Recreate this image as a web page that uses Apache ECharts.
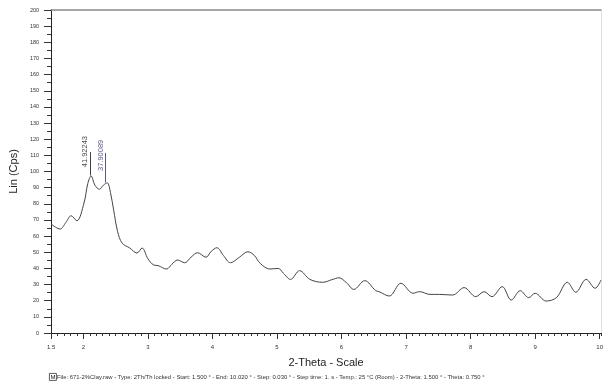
<!DOCTYPE html>
<html>
<head>
<meta charset="utf-8">
<script src="https://cdn.jsdelivr.net/npm/echarts@6/dist/echarts.min.js"></script>
<style>html,body{margin:0;padding:0;background:#fff;}#c{width:606px;height:385px;}</style>
</head>
<body>
<div id="c"></div>
<script>
// 2-Theta positions (degrees) and intensities (Lin Cps)
const twoTheta = [1.50,1.57,1.64,1.73,1.81,1.90,2.01,2.07,2.12,2.18,2.25,2.31,2.37,2.42,2.47,2.53,2.60,2.72,2.83,2.91,3.00,3.09,3.16,3.29,3.37,3.46,3.57,3.67,3.77,3.90,3.98,4.07,4.17,4.28,4.42,4.55,4.65,4.74,4.89,5.02,5.10,5.21,5.35,5.51,5.71,5.85,5.96,6.08,6.19,6.36,6.53,6.58,6.74,6.92,7.11,7.21,7.37,7.52,7.72,7.90,8.08,8.21,8.33,8.49,8.63,8.77,8.90,9.00,9.17,9.33,9.50,9.63,9.79,9.93,10.02];
const counts   = [67.5,65.5,64.4,68.5,72.6,69.5,80.5,92.7,97.2,91.5,89.0,91.5,93.0,87.0,76.0,63.0,55.7,52.6,49.5,52.6,46.0,42.1,41.7,39.6,42.5,45.2,43.5,47.0,49.7,46.9,50.5,52.8,48.0,43.5,47.0,50.3,48.0,43.1,39.6,40.0,37.0,33.2,38.6,33.2,31.4,33.0,34.2,31.0,27.0,32.4,26.2,25.6,22.9,30.8,24.6,25.6,23.9,23.9,23.5,28.1,22.5,25.6,22.5,28.7,20.4,26.2,21.9,24.6,19.8,21.9,31.4,25.2,33.2,27.7,32.8];
// Axis tick labels
const xTickLabels = [1.5,2,3,4,5,6,7,8,9,10];
// Peak annotations
const peakLabels = ['41.92243','37.90089'];
const peakLabelX = [2.03, 2.27];
const peakLabelY = [112.3, 110.0];
const arrowX = [2.10, 2.34];
const arrowTop = [112.0, 111.5];
const arrowBottom = [97.5, 93.2];
const peakColors = ['#111111','#2b2b66'];

const FONT = 'Liberation Sans, Arial, sans-serif';
const chart = echarts.init(document.getElementById('c'), null, {renderer:'canvas'});

const lineData = twoTheta.map((x,i)=>[x,counts[i]]);
const labelData = peakLabels.map((t,i)=>({value:[peakLabelX[i],peakLabelY[i],t], label:{color:peakColors[i]}}));
const arrowData = arrowX.map((x,i)=>[
  {coord:[x,arrowTop[i]], lineStyle:{color:peakColors[i]}},
  {coord:[x,arrowBottom[i]]}
]);

chart.setOption({
  animation:false,
  backgroundColor:'#fff',
  textStyle:{fontFamily:FONT},
  grid:{left:48,right:1,top:10,bottom:52,containLabel:false},
  xAxis:[
    {type:'value',min:1.5,max:10.02,position:'bottom',
     axisLine:{show:true,lineStyle:{color:'#222',width:1}},
     axisTick:{show:true,customValues:xTickLabels,length:6,lineStyle:{color:'#333'}},
     axisLabel:{show:true,customValues:xTickLabels,fontSize:6,margin:11,color:'#333',fontFamily:FONT,formatter:v=>String(v)},
     splitLine:{show:false},
     name:'2-Theta - Scale',nameLocation:'middle',nameGap:24,
     nameTextStyle:{fontSize:11,color:'#222',fontFamily:FONT}},
    {type:'value',min:1.5,max:10.02,interval:0.1,position:'bottom',
     axisLine:{show:false},axisTick:{show:true,length:3,lineStyle:{color:'#333'}},
     axisLabel:{show:false},splitLine:{show:false}},
    {type:'value',min:1.5,max:10.02,position:'top',
     axisLine:{show:true,lineStyle:{color:'#888',width:1.5}},axisTick:{show:false},
     axisLabel:{show:false},splitLine:{show:false}}
  ],
  yAxis:[
    {type:'value',min:0,max:200,interval:10,position:'left',
     axisLine:{show:true,lineStyle:{color:'#222',width:1}},
     axisTick:{show:true,length:7,lineStyle:{color:'#333'}},
     minorTick:{show:true,splitNumber:2,length:4,lineStyle:{color:'#333'}},
     axisLabel:{fontSize:5.5,margin:12,color:'#333',fontFamily:FONT},
     splitLine:{show:false},
     name:'Lin (Cps)',nameLocation:'middle',nameGap:24,
     nameTextStyle:{fontSize:11,color:'#222',fontFamily:FONT}},
    {type:'value',min:0,max:200,position:'right',
     axisLine:{show:true,lineStyle:{color:'#e0e0e0'}},axisTick:{show:false},
     axisLabel:{show:false},splitLine:{show:false}}
  ],
  title:{text:'File: 671-2%Clay.raw - Type: 2Th/Th locked - Start: 1.500 ° - End: 10.020 ° - Step: 0.030 ° - Step time: 1. s - Temp.: 25 °C (Room) - 2-Theta: 1.500 ° - Theta: 0.750 °',
    left:57,top:374,padding:0,
    textStyle:{fontSize:5.9,fontWeight:'normal',color:'#333',fontFamily:FONT}},
  graphic:[
    {type:'group',left:49,top:373,children:[
      {type:'rect',shape:{x:0,y:0,width:7,height:7},style:{fill:'#fff',stroke:'#333',lineWidth:0.8}},
      {type:'text',style:{x:3.5,y:3.7,text:'M',fontSize:6,fill:'#222',align:'center',verticalAlign:'middle',fontFamily:FONT}}
    ]}
  ],
  series:[
    {type:'line',xAxisIndex:0,yAxisIndex:0,data:lineData,smooth:0.35,showSymbol:false,
     lineStyle:{color:'#444',width:1},z:3},
    {type:'scatter',xAxisIndex:0,yAxisIndex:0,data:labelData,symbolSize:0,
     label:{show:true,position:'inside',rotate:90,fontSize:7.5,fontFamily:FONT,formatter:p=>p.value[2]},
     markLine:{silent:true,symbol:['none','arrow'],symbolSize:[0,5],label:{show:false},
       lineStyle:{type:'solid',width:0.8,color:'#111'},data:arrowData},
     z:4}
  ]
});
</script>
</body>
</html>
